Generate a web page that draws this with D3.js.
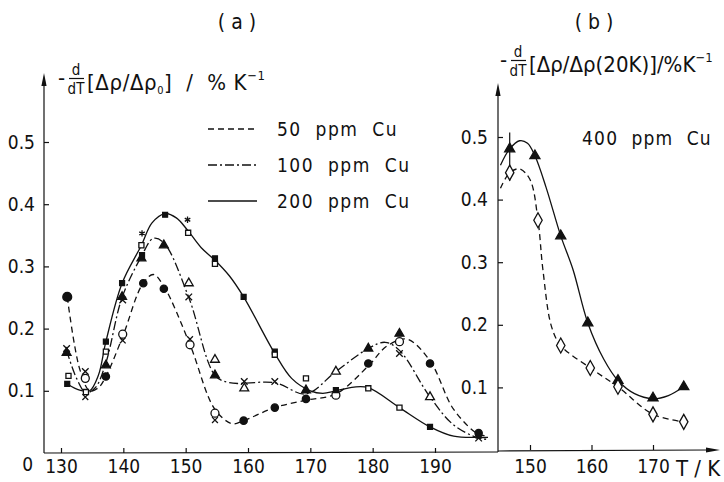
<!DOCTYPE html>
<html>
<head>
<meta charset="utf-8">
<title>dρ/dT curves</title>
<style type="text/css">
    body { margin: 0; background: #fff; }
    svg text {
        font-family: "Liberation Sans Narrow", "DejaVu Sans Condensed", "Roboto Condensed", sans-serif;
        font-stretch: condensed;
        fill: #111;
    }
    .axis text { font-size: 19px; }
    .axis line { stroke: #111; stroke-width: 1.2; }
    .curve { fill: none; stroke: #111; stroke-width: 1.3; }
</style>
</head>
<body>
<svg width="724" height="482"></svg>
<script src="https://cdnjs.cloudflare.com/ajax/libs/d3/7.8.5/d3.min.js"></script>
<script>
    /*========= DATA: panel (a) =========*/
    var ticksXa = [130, 140, 150, 160, 170, 180, 190];
    var ticksY = [0, 0.1, 0.2, 0.3, 0.4, 0.5];
    var legendLabels = ['50  ppm  Cu', '100  ppm  Cu', '200  ppm  Cu'];

    // 50 ppm Cu (dashed)
    var c50Filled = [[131, 0.251], [137.2, 0.123], [143.2, 0.273], [146.5, 0.264], [159.3, 0.052],
                     [164.3, 0.073], [169.3, 0.087], [179.3, 0.144], [189.2, 0.144], [197, 0.032]];
    var c50Open = [[133.9, 0.12], [139.9, 0.191], [150.7, 0.174], [154.7, 0.064], [174.1, 0.093], [184.3, 0.179]];
    var c50Cross = [[133.9, 0.09], [139.9, 0.181], [150.7, 0.183], [154.7, 0.053]];
    var fit50 = [[131, 0.251], [133, 0.135], [134.6, 0.1], [136, 0.105], [137.2, 0.123], [140, 0.19],
                 [143, 0.27], [144.8, 0.287], [146.5, 0.268], [150.7, 0.174], [154.7, 0.07], [157.5, 0.047],
                 [159.3, 0.052], [164.3, 0.073], [169.3, 0.085], [174.1, 0.095], [179.3, 0.14], [182.3, 0.172],
                 [185.5, 0.183], [189.2, 0.148], [193, 0.07], [197, 0.03], [198.5, 0.028]];

    // 100 ppm Cu (dash-dot)
    var t100Filled = [[130.9, 0.161], [137.2, 0.141], [139.8, 0.251], [142.9, 0.313], [146.5, 0.334],
                      [154.7, 0.125], [169.3, 0.101], [179.3, 0.168], [184.3, 0.192]];
    var t100Open = [[150.5, 0.273], [154.7, 0.15], [159.4, 0.104], [174.1, 0.131], [189.2, 0.09]];
    var x100 = [[130.9, 0.168], [133.9, 0.131], [139.9, 0.246], [150.5, 0.251], [159.4, 0.115],
                [164.3, 0.115], [184.3, 0.16], [197, 0.024]];
    var fit100 = [[130.9, 0.165], [132.5, 0.12], [134, 0.097], [135.5, 0.105], [137.2, 0.145], [139.8, 0.25],
                  [142.9, 0.316], [144.8, 0.345], [146.5, 0.338], [150.5, 0.25], [154.7, 0.125], [157, 0.113],
                  [164.3, 0.113], [169.3, 0.095], [174.1, 0.131], [179.3, 0.168], [182, 0.178], [184.3, 0.165],
                  [189.2, 0.09], [193, 0.045], [197, 0.024], [198.5, 0.022]];

    // 200 ppm Cu (solid)
    var s200Filled = [[131, 0.111], [137.2, 0.179], [139.8, 0.273], [143, 0.318], [146.7, 0.383],
                      [154.7, 0.313], [159.3, 0.251], [164.3, 0.163], [174.1, 0.101], [189.2, 0.042], [197, 0.028]];
    var s200Open = [[131.2, 0.124], [134, 0.098], [137.2, 0.163], [142.9, 0.334], [150.4, 0.354],
                    [154.7, 0.304], [164.3, 0.158], [169.3, 0.12], [179.3, 0.104], [184.3, 0.073]];
    var s200Star = [[143, 0.353], [150.3, 0.375]];
    var fit200 = [[131, 0.111], [133, 0.101], [134.6, 0.1], [136, 0.125], [137.2, 0.179], [139.8, 0.273],
                  [142.9, 0.334], [144.6, 0.37], [146.7, 0.385], [148.5, 0.378], [150.4, 0.357], [152.5, 0.33],
                  [154.7, 0.31], [157, 0.285], [159.3, 0.251], [164.3, 0.16], [167, 0.12], [170, 0.1],
                  [172, 0.096], [174.1, 0.1], [177, 0.106], [179.3, 0.105], [184.3, 0.073], [189.2, 0.042],
                  [193, 0.027], [197, 0.025], [198.5, 0.025]];

    /*========= DATA: panel (b) 400 ppm Cu =========*/
    var ticksXb = [150, 160, 170];
    var b400Tri = [[146.7, 0.481], [150.8, 0.47], [155, 0.342], [159.4, 0.203], [164.3, 0.111], [170, 0.083], [175, 0.101]];
    var b400Dia = [[146.7, 0.443], [151.3, 0.367], [155, 0.167], [159.8, 0.131], [164.3, 0.101], [170, 0.057], [175, 0.045]];
    var b400Err = [[146.7, 0.43, 0.507]];
    var fitB400Tri = [[145.2, 0.455], [146.7, 0.481], [148.3, 0.494], [149.6, 0.49], [150.8, 0.47], [152.6, 0.42],
                      [155, 0.342], [157, 0.288], [159.4, 0.203], [162, 0.145], [164.3, 0.111], [167, 0.09],
                      [170, 0.082], [172.5, 0.087], [175, 0.101]];
    var fitB400Dia = [[145.2, 0.418], [146.7, 0.443], [148.3, 0.449], [150, 0.432], [151.3, 0.367], [152.1, 0.288],
                      [153.5, 0.197], [155, 0.167], [159.8, 0.131], [164.3, 0.101], [170, 0.057], [175, 0.045]];

    /*========= SCALES =========*/
    var xa = d3.scaleLinear().domain([130, 190]).range([61, 435]);
    var ya = d3.scaleLinear().domain([0, 0.5]).range([453, 142]);
    var xb = d3.scaleLinear().domain([150, 170]).range([530, 653]);
    var yb = d3.scaleLinear().domain([0, 0.5]).range([450, 137]);

    var svg = d3.select('svg');
    var ink = '#111';

    /*========= AXES =========*/
    function arrowUp(x, y) {
        return 'M' + x + ',' + y + 'L' + (x - 2.6) + ',' + (y + 13) + 'L' + (x + 2.6) + ',' + (y + 13) + 'Z';
    }
    function arrowRight(x, y) {
        return 'M' + x + ',' + y + 'L' + (x - 14) + ',' + (y - 2.6) + 'L' + (x - 14) + ',' + (y + 2.6) + 'Z';
    }

    var axA = svg.append('g').attr('class', 'axis');
    axA.append('g').attr('transform', 'translate(0,453)')
        .call(d3.axisBottom(xa).tickValues(ticksXa).tickSize(-5).tickPadding(7).tickFormat(d3.format('d')))
        .call(g => g.select('.domain').remove());
    axA.append('g').attr('transform', 'translate(44,0)')
        .call(d3.axisLeft(ya).tickValues(ticksY).tickSize(-5).tickPadding(9)
            .tickFormat(d => d === 0 ? '0' : d3.format('.1f')(d)))
        .call(g => g.select('.domain').remove())
        .call(g => g.selectAll('.tick').filter(d => d === 0).select('line').remove())
        .call(g => g.selectAll('.tick').filter(d => d === 0).select('text').attr('dy', '0.9em').attr('x', -11));
    axA.append('line').attr('x1', 44).attr('x2', 44).attr('y1', 453).attr('y2', 82);
    axA.append('path').attr('d', arrowUp(44, 73)).attr('fill', ink);
    axA.append('line').attr('x1', 44).attr('x2', 498).attr('y1', 453).attr('y2', 452);

    var axB = svg.append('g').attr('class', 'axis');
    axB.append('g').attr('transform', 'translate(0,450)')
        .call(d3.axisBottom(xb).tickValues(ticksXb).tickSize(-5).tickPadding(10).tickFormat(d3.format('d')))
        .call(g => g.select('.domain').remove());
    axB.append('g').attr('transform', 'translate(498,0)')
        .call(d3.axisLeft(yb).tickValues(ticksY.slice(1)).tickSize(-5).tickPadding(10).tickFormat(d3.format('.1f')))
        .call(g => g.select('.domain').remove());
    axB.append('line').attr('x1', 498).attr('x2', 498).attr('y1', 452).attr('y2', 92);
    axB.append('path').attr('d', arrowUp(498, 83)).attr('fill', ink);
    axB.append('line').attr('x1', 498).attr('x2', 708).attr('y1', 451).attr('y2', 450);
    axB.append('path').attr('d', arrowRight(720, 450)).attr('fill', ink);
    axB.append('text').attr('x', 676).attr('y', 476).style('font-size', '22px').attr('xml:space', 'preserve').text('T / K');

    /*========= TITLES / AXIS LABELS =========*/
    svg.append('text').attr('x', 237).attr('y', 29).attr('text-anchor', 'middle')
        .style('font-size', '21px').attr('xml:space', 'preserve').text('( a )');
    svg.append('text').attr('x', 594).attr('y', 29).attr('text-anchor', 'middle')
        .style('font-size', '21px').attr('xml:space', 'preserve').text('( b )');

    function derivLabel(x, y, body, size, spacing) {
        var g = svg.append('g');
        g.append('text').attr('x', x).attr('y', y - 5).style('font-size', size + 'px').text('-');
        g.append('text').attr('x', x + 18).attr('y', y - 15).attr('text-anchor', 'middle').style('font-size', '15px').text('d');
        g.append('line').attr('x1', x + 11).attr('x2', x + 26).attr('y1', y - 11.5).attr('y2', y - 11.5).attr('stroke', ink).attr('stroke-width', 1.2);
        g.append('text').attr('x', x + 18).attr('y', y + 4).attr('text-anchor', 'middle').style('font-size', '15px').text('dT');
        var t = g.append('text').attr('x', x + 29).attr('y', y).style('font-size', size + 'px')
            .style('letter-spacing', spacing + 'px').attr('xml:space', 'preserve');
        body(t);
        return g;
    }
    derivLabel(58, 90, function (t) {
        t.append('tspan').text('[Δρ/Δρ');
        t.append('tspan').attr('dy', 4).style('font-size', '11px').text('0');
        t.append('tspan').attr('dy', -4).text(']  /  % K');
        t.append('tspan').attr('dy', -10).style('font-size', '13px').text('−1');
    }, 22, 0.6);
    derivLabel(500, 72, function (t) {
        t.append('tspan').text('[Δρ/Δρ(20K)]/%K');
        t.append('tspan').attr('dy', -10).style('font-size', '13px').text('−1');
    }, 22, 0);

    /*========= LEGEND =========*/
    var dashes = ['6,4', '9,3,2,3', null];
    var legend = svg.append('g');
    legendLabels.forEach(function (lab, i) {
        var yy = 129 + i * 36;
        legend.append('line').attr('x1', 208).attr('x2', 257).attr('y1', yy).attr('y2', yy)
            .attr('class', 'curve').attr('stroke-dasharray', dashes[i]);
        legend.append('text').attr('x', 277).attr('y', yy + 7).style('font-size', '19px')
            .style('letter-spacing', '1.5px').attr('xml:space', 'preserve').text(lab);
    });
    svg.append('text').attr('x', 582).attr('y', 145).style('font-size', '19px')
        .style('letter-spacing', '1.2px').attr('xml:space', 'preserve').text('400  ppm  Cu');

    /*========= CURVES =========*/
    var lineA = d3.line().x(d => xa(d[0])).y(d => ya(d[1])).curve(d3.curveCatmullRom.alpha(0.5));
    var lineB = d3.line().x(d => xb(d[0])).y(d => yb(d[1])).curve(d3.curveCatmullRom.alpha(0.5));
    var curves = svg.append('g');
    curves.append('path').attr('class', 'curve').attr('d', lineA(fit50)).attr('stroke-dasharray', dashes[0]);
    curves.append('path').attr('class', 'curve').attr('d', lineA(fit100)).attr('stroke-dasharray', dashes[1]);
    curves.append('path').attr('class', 'curve').attr('d', lineA(fit200));
    curves.append('path').attr('class', 'curve').attr('d', lineB(fitB400Tri));
    curves.append('path').attr('class', 'curve').attr('d', lineB(fitB400Dia)).attr('stroke-dasharray', dashes[0]);

    /*========= MARKERS =========*/
    function markers(data, sx, sy, type, size, filled) {
        svg.append('g').selectAll('path').data(data).join('path')
            .attr('transform', d => 'translate(' + sx(d[0]) + ',' + sy(d[1]) + ')')
            .attr('d', d3.symbol().type(type).size(size))
            .attr('fill', filled ? ink : '#fff')
            .attr('stroke', ink).attr('stroke-width', 1.3);
    }
    markers(c50Cross, xa, ya, d3.symbolTimes, 24, false);
    markers(x100, xa, ya, d3.symbolTimes, 30, false);
    markers(s200Star, xa, ya, d3.symbolAsterisk, 28, false);
    markers(c50Filled.slice(0, 1), xa, ya, d3.symbolCircle, 62, true);
    markers(c50Filled.slice(1), xa, ya, d3.symbolCircle, 42, true);
    markers(c50Open, xa, ya, d3.symbolCircle, 50, false);
    markers(t100Filled, xa, ya, d3.symbolTriangle, 34, true);
    markers(t100Open, xa, ya, d3.symbolTriangle, 34, false);
    markers(s200Filled, xa, ya, d3.symbolSquare, 24, true);
    markers(s200Open, xa, ya, d3.symbolSquare, 26, false);

    svg.append('g').selectAll('line').data(b400Err).join('line')
        .attr('x1', d => xb(d[0])).attr('x2', d => xb(d[0]))
        .attr('y1', d => yb(d[1])).attr('y2', d => yb(d[2]))
        .attr('stroke', ink).attr('stroke-width', 1.2);
    markers(b400Tri, xb, yb, d3.symbolTriangle, 44, true);
    // tall open diamonds
    svg.append('g').selectAll('path').data(b400Dia).join('path')
        .attr('transform', d => 'translate(' + xb(d[0]) + ',' + yb(d[1]) + ')')
        .attr('d', 'M0,-7.5L4.2,0L0,7.5L-4.2,0Z')
        .attr('fill', '#fff').attr('stroke', ink).attr('stroke-width', 1.3);
</script>
</body>
</html>
